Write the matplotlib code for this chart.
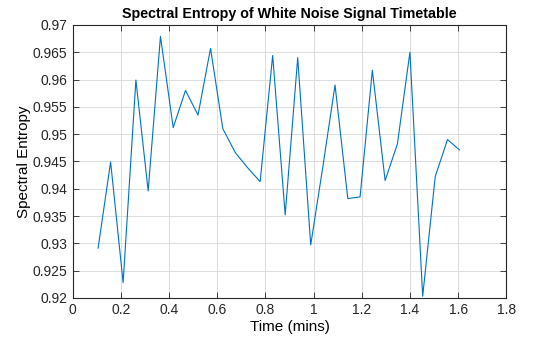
import numpy as np
import matplotlib.pyplot as plt

# time (mins) and spectral entropy
time_mins = [0.105, 0.157, 0.209, 0.262, 0.313, 0.364, 0.417, 0.468, 0.520, 0.572,
             0.623, 0.675, 0.727, 0.778, 0.830, 0.882, 0.934, 0.988, 1.040, 1.089,
             1.142, 1.193, 1.244, 1.297, 1.348, 1.400, 1.453, 1.505, 1.556, 1.606]
entropy = [0.9291, 0.9449, 0.9228, 0.9599, 0.9396, 0.9679, 0.9512, 0.9580, 0.9535, 0.9657,
           0.9510, 0.9466, 0.9438, 0.9413, 0.9644, 0.9352, 0.9640, 0.9297, 0.9445, 0.9590,
           0.9382, 0.9385, 0.9617, 0.9415, 0.9482, 0.9650, 0.9203, 0.9422, 0.9490, 0.9471]

xticks = [0, 0.2, 0.4, 0.6, 0.8, 1, 1.2, 1.4, 1.6, 1.8]
yticks = [0.92, 0.925, 0.93, 0.935, 0.94, 0.945, 0.95, 0.955, 0.96, 0.965, 0.97]

plt.rcParams['font.family'] = ['Liberation Sans', 'DejaVu Sans']

fig = plt.figure(figsize=(5.6, 3.37), dpi=100)
ax = fig.add_axes([0.130, 0.116, 0.774, 0.810])

ax.plot(time_mins, entropy, color='#0072BD', linewidth=0.8)

ax.set_xlim(0, 1.8)
ax.set_ylim(0.92, 0.97)
ax.set_xticks(xticks)
ax.set_xticklabels([('%g' % t) for t in xticks])
ax.set_yticks(yticks)
ax.set_yticklabels([('%g' % t) for t in yticks])

ax.grid(True, color='#dcdcdc', linewidth=0.7)
ax.set_axisbelow(True)
ax.tick_params(direction='in', top=True, right=True, length=4, width=0.6,
               labelsize=10, colors='#262626', pad=4)
for s in ax.spines.values():
    s.set_linewidth(0.8)
    s.set_color('#262626')

ax.set_title('Spectral Entropy of White Noise Signal Timetable',
             fontsize=10.3, fontweight='bold', pad=5)
ax.set_xlabel('Time (mins)', fontsize=11, labelpad=2)
ax.set_ylabel('Spectral Entropy', fontsize=11, labelpad=1)

plt.savefig('out.png', dpi=100)
